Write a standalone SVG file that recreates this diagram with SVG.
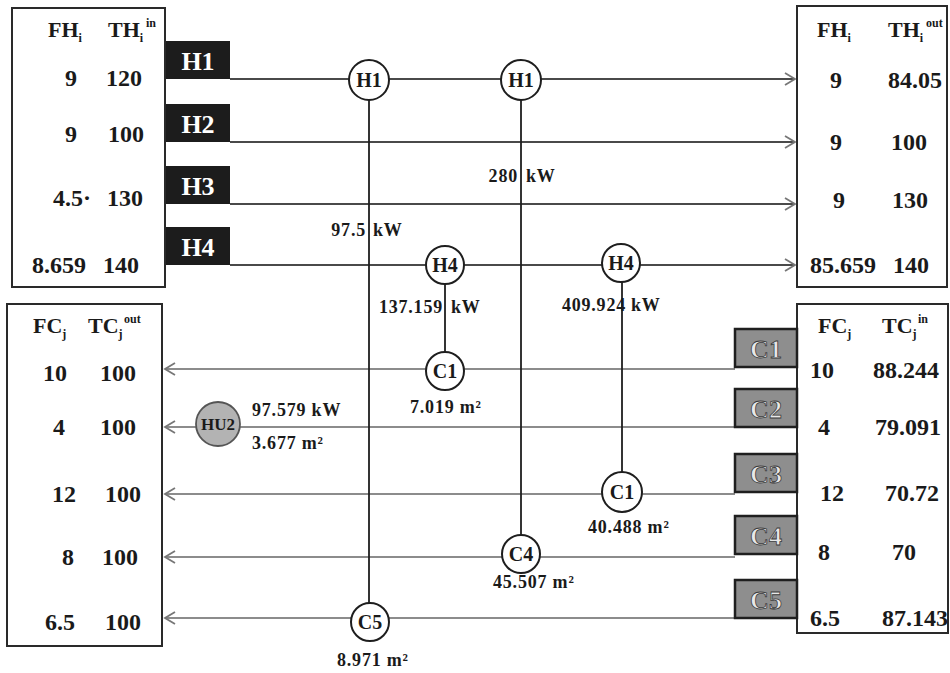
<svg xmlns="http://www.w3.org/2000/svg" width="950" height="673" viewBox="0 0 950 673">
<defs>
<style>
.box{fill:#fff;stroke:#2a2a2a;stroke-width:2}
.t{font-family:"Liberation Serif","Times New Roman",serif;font-weight:bold;fill:#1a1a1a}
.row{font-size:24px}
.hdr{font-size:22px}
.sm{font-size:12px}
.lbl{font-size:18px;letter-spacing:0.8px}
.hot{stroke:#4a4a4a;stroke-width:2;fill:none}
.cold{stroke:#8c8c8c;stroke-width:2;fill:none}
.vert{stroke:#1e1e1e;stroke-width:1.8;fill:none}
.hx{fill:#fff;stroke:#1e1e1e;stroke-width:2}
.hx-t{font-size:20px;text-anchor:middle}
.hb{fill:#1c1c1c}
.hb-t{font-family:"Liberation Serif","Times New Roman",serif;font-weight:bold;font-size:26px;fill:#fff;text-anchor:middle}
.cb{fill:#8e8e8e;stroke:#1f1f1f;stroke-width:2.5}
.cb-t{font-family:"Liberation Serif","Times New Roman",serif;font-weight:bold;font-size:26px;fill:#e8e8e8;stroke:#3a3a3a;stroke-width:0.8;text-anchor:middle}
</style>
<marker id="arr" markerWidth="14" markerHeight="14" refX="12" refY="7" orient="auto" markerUnits="userSpaceOnUse">
<path d="M2,1 L12,7 L2,13" fill="none" stroke="#777" stroke-width="1.8"/>
</marker>
</defs>
<rect width="950" height="673" fill="#fff"/>

<!-- connectors -->
<g id="connectors">
<line class="hot" x1="230" y1="79" x2="795" y2="79" marker-end="url(#arr)"/>
<line class="hot" x1="230" y1="142" x2="795" y2="142" marker-end="url(#arr)"/>
<line class="hot" x1="230" y1="204" x2="795" y2="204" marker-end="url(#arr)"/>
<line class="hot" x1="230" y1="265" x2="795" y2="265" marker-end="url(#arr)"/>
<line class="cold" x1="735" y1="369" x2="165" y2="369" marker-end="url(#arr)"/>
<line class="cold" x1="735" y1="427" x2="165" y2="427" marker-end="url(#arr)"/>
<line class="cold" x1="735" y1="494" x2="165" y2="494" marker-end="url(#arr)"/>
<line class="cold" x1="735" y1="557" x2="165" y2="557" marker-end="url(#arr)"/>
<line class="cold" x1="735" y1="618" x2="165" y2="618" marker-end="url(#arr)"/>
<line class="vert" x1="369" y1="80" x2="369" y2="621"/>
<line class="vert" x1="521" y1="80" x2="521" y2="555"/>
<line class="vert" x1="445" y1="265" x2="445" y2="371"/>
<line class="vert" x1="622" y1="263" x2="622" y2="492"/>
</g>

<!-- hot inlet table -->
<g id="hot-in">
<rect class="box" x="12" y="8" width="153" height="279"/>
<text class="t hdr" x="48" y="37">FH<tspan class="sm" dy="5">i</tspan></text>
<text class="t hdr" x="108" y="37">TH<tspan class="sm" dy="5">i</tspan><tspan class="sm" x="146" dy="-15">in</tspan></text>
<text class="t row" x="65" y="86">9</text><text class="t row" x="106" y="86">120</text>
<text class="t row" x="65" y="142">9</text><text class="t row" x="108" y="142">100</text>
<text class="t row" x="53" y="206">4.5·</text><text class="t row" x="107" y="206">130</text>
<text class="t row" x="32" y="273">8.659</text><text class="t row" x="103" y="273">140</text>
</g>

<!-- hot stream labels -->
<g id="H1"><rect class="hb" x="166" y="41" width="64" height="38"/><text class="hb-t" x="198" y="70">H1</text></g>
<g id="H2"><rect class="hb" x="166" y="104" width="64" height="38"/><text class="hb-t" x="198" y="133">H2</text></g>
<g id="H3"><rect class="hb" x="166" y="166" width="64" height="38"/><text class="hb-t" x="198" y="195">H3</text></g>
<g id="H4"><rect class="hb" x="166" y="227" width="64" height="38"/><text class="hb-t" x="198" y="256">H4</text></g>

<!-- hot outlet table -->
<g id="hot-out">
<rect class="box" x="797" y="6" width="150" height="281"/>
<text class="t hdr" x="817" y="37">FH<tspan class="sm" dy="5">i</tspan></text>
<text class="t hdr" x="888" y="37">TH<tspan class="sm" dy="5">i</tspan><tspan class="sm" x="926" dy="-15">out</tspan></text>
<text class="t row" x="830" y="88">9</text><text class="t row" x="888" y="88">84.05</text>
<text class="t row" x="830" y="150">9</text><text class="t row" x="891" y="150">100</text>
<text class="t row" x="833" y="208">9</text><text class="t row" x="892" y="208">130</text>
<text class="t row" x="810" y="273">85.659</text><text class="t row" x="893" y="273">140</text>
</g>

<!-- cold outlet table -->
<g id="cold-out">
<rect class="box" x="7" y="304" width="155" height="342"/>
<text class="t hdr" x="33" y="333">FC<tspan class="sm" dy="5">j</tspan></text>
<text class="t hdr" x="88" y="333">TC<tspan class="sm" dy="5">j</tspan><tspan class="sm" x="124" dy="-15">out</tspan></text>
<text class="t row" x="43" y="381">10</text><text class="t row" x="100" y="381">100</text>
<text class="t row" x="53" y="435">4</text><text class="t row" x="100" y="435">100</text>
<text class="t row" x="52" y="502">12</text><text class="t row" x="105" y="502">100</text>
<text class="t row" x="62" y="565">8</text><text class="t row" x="102" y="565">100</text>
<text class="t row" x="45" y="630">6.5</text><text class="t row" x="105" y="630">100</text>
</g>

<!-- cold inlet table -->
<g id="cold-in">
<rect class="box" x="797" y="304" width="151" height="329"/>
<text class="t hdr" x="818" y="333">FC<tspan class="sm" dy="5">j</tspan></text>
<text class="t hdr" x="882" y="333">TC<tspan class="sm" dy="5">j</tspan><tspan class="sm" x="918" dy="-15">in</tspan></text>
<text class="t row" x="810" y="378">10</text><text class="t row" x="873" y="378">88.244</text>
<text class="t row" x="818" y="435">4</text><text class="t row" x="875" y="435">79.091</text>
<text class="t row" x="820" y="501">12</text><text class="t row" x="885" y="501">70.72</text>
<text class="t row" x="818" y="560">8</text><text class="t row" x="892" y="560">70</text>
<text class="t row" x="810" y="626">6.5</text><text class="t row" x="882" y="626">87.143</text>
</g>

<!-- cold stream labels -->
<g id="C1"><rect class="cb" x="735" y="329" width="62" height="38"/><text class="cb-t" x="766" y="358">C1</text></g>
<g id="C2"><rect class="cb" x="735" y="389" width="62" height="38"/><text class="cb-t" x="766" y="418">C2</text></g>
<g id="C3"><rect class="cb" x="735" y="454" width="62" height="38"/><text class="cb-t" x="766" y="483">C3</text></g>
<g id="C4"><rect class="cb" x="735" y="516" width="62" height="38"/><text class="cb-t" x="766" y="545">C4</text></g>
<g id="C5"><rect class="cb" x="735" y="580" width="62" height="38"/><text class="cb-t" x="766" y="609">C5</text></g>

<!-- exchangers -->
<g id="ex-H1-C5-top"><circle class="hx" cx="369" cy="80" r="20"/><text class="t hx-t" x="369" y="87">H1</text></g>
<g id="ex-H1-C4-top"><circle class="hx" cx="521" cy="80" r="20"/><text class="t hx-t" x="521" y="87">H1</text></g>
<g id="ex-H4-C1-top"><circle class="hx" cx="445" cy="265" r="19"/><text class="t hx-t" x="445" y="272">H4</text></g>
<g id="ex-H4-C3-top"><circle class="hx" cx="621" cy="263" r="19"/><text class="t hx-t" x="621" y="270">H4</text></g>
<g id="ex-H4-C1-bot"><circle class="hx" cx="445" cy="371" r="19"/><text class="t hx-t" x="445" y="378">C1</text></g>
<g id="ex-H4-C3-bot"><circle class="hx" cx="622" cy="492" r="20"/><text class="t hx-t" x="622" y="499">C1</text></g>
<g id="ex-H1-C4-bot"><circle class="hx" cx="521" cy="554" r="19"/><text class="t hx-t" x="521" y="561">C4</text></g>
<g id="ex-H1-C5-bot"><circle class="hx" cx="370" cy="622" r="19"/><text class="t hx-t" x="370" y="629">C5</text></g>
<g id="HU2"><circle cx="218" cy="424" r="22" fill="#b3b3b3" stroke="#555" stroke-width="1.8"/><text class="t" x="218" y="430" font-size="17" text-anchor="middle">HU2</text></g>

<!-- duty / area labels -->
<g id="labels">
<text class="t lbl" x="366" y="236" text-anchor="end">97.5</text><text class="t lbl" x="373" y="236">kW</text>
<text class="t lbl" x="518" y="182" text-anchor="end">280</text><text class="t lbl" x="526" y="182">kW</text>
<text class="t lbl" x="443" y="313" text-anchor="end">137.159</text><text class="t lbl" x="451" y="313">kW</text>
<text class="t lbl" x="626" y="311" text-anchor="end">409.924</text><text class="t lbl" x="631" y="311">kW</text>
<text class="t lbl" x="410" y="413">7.019  m²</text>
<text class="t lbl" x="252" y="416">97.579 kW</text>
<text class="t lbl" x="252" y="449">3.677  m²</text>
<text class="t lbl" x="588" y="533">40.488  m²</text>
<text class="t lbl" x="493" y="588">45.507  m²</text>
<text class="t lbl" x="337" y="666">8.971  m²</text>
</g>
</svg>
